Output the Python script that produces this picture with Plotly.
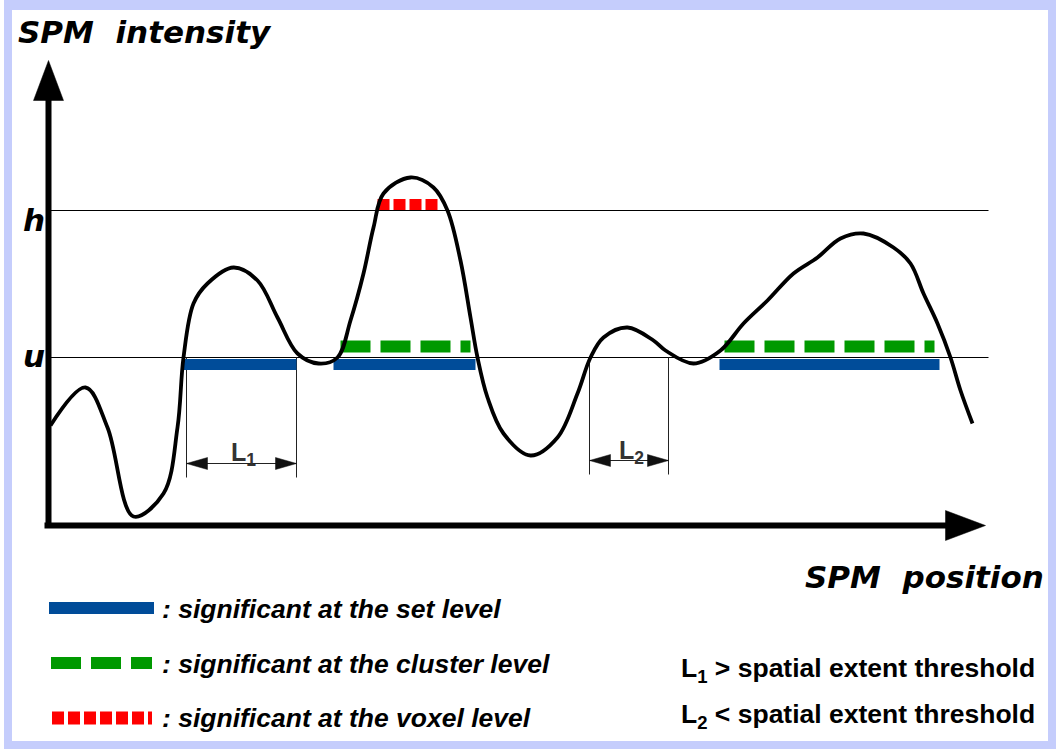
import plotly.graph_objects as go

# ---------------- data (position, intensity) ----------------
curve_pos = [2, 37, 59, 85, 115, 129, 135, 145, 159, 185, 209, 229, 249, 270, 289,
             302, 315, 325, 335, 362, 385, 399, 412, 422, 429, 439, 455, 482, 509,
             529, 542, 555, 579, 605, 617, 645, 672, 695, 719, 745, 769, 792, 815,
             845, 862, 875, 889, 902, 912, 924]
curve_int = [100, 138, 98, 9, 32, 98, 168, 222, 242, 258, 245, 208, 172, 162, 168,
             205, 252, 298, 332, 348, 338, 315, 265, 208, 168, 128, 92, 70, 88,
             132, 168, 188, 198, 185, 175, 162, 175, 202, 225, 252, 268, 287, 292,
             278, 262, 232, 202, 168, 135, 102]

u_level = 168
h_level = 315
threshold_end = 940

set_segments = [(135, 248), (285, 427), (671, 891)]
cluster_segments = [(292, 422), (676, 886)]
voxel_segments = [(329, 389)]

L1_extent = (138, 248)
L2_extent = (541, 620)

legend_labels = [": significant at the set level",
                 ": significant at the cluster level",
                 ": significant at the voxel level"]
note_labels = ["L<sub>1</sub> > spatial extent threshold",
               "L<sub>2</sub> < spatial extent threshold"]

# ---------------- layout constants (pixel origin of the axes) ----------------
W, H = 1056, 749
X0, Y0 = 48.5, 525.5

BLUE = "#004c99"
GREEN = "#009900"
RED = "#ff0000"
LAV = "#c5cdfc"

TITLE_FONT = "DejaVu Sans"
TEXT_FONT = "Liberation Sans"


def dx(px):
    return px - X0


def dy(py):
    return Y0 - py


fig = go.Figure()


def seg_line(x0, x1, y, color, width, dash="solid"):
    fig.add_trace(go.Scatter(x=[x0, x1], y=[y, y], mode="lines",
                             line=dict(color=color, width=width, dash=dash),
                             hoverinfo="skip", showlegend=False))


def polygon(xs, ys, color="black"):
    fig.add_trace(go.Scatter(x=xs + [xs[0]], y=ys + [ys[0]], mode="lines",
                             fill="toself", fillcolor=color,
                             line=dict(color=color, width=0.5),
                             hoverinfo="skip", showlegend=False))


# threshold lines
seg_line(0, threshold_end, h_level, "#000000", 1)
seg_line(0, threshold_end, u_level, "#000000", 1)

# L extent markers
for (a, b), ay in [(L1_extent, 62), (L2_extent, 65)]:
    for xv in (a, b):
        fig.add_trace(go.Scatter(x=[xv, xv], y=[u_level, ay - 14], mode="lines",
                                 line=dict(color="#222222", width=1),
                                 hoverinfo="skip", showlegend=False))
    seg_line(a, b, ay, "#222222", 1)
    polygon([a, a + 21, a + 21], [ay, ay + 6, ay - 6], "#111111")
    polygon([b, b - 21, b - 21], [ay, ay + 6, ay - 6], "#111111")

# significance bars
for a, b in set_segments:
    seg_line(a, b, u_level - 7, BLUE, 11)
for a, b in cluster_segments:
    seg_line(a, b, u_level + 11, GREEN, 12, "30px,10px")
for a, b in voxel_segments:
    seg_line(a, b, h_level + 6, RED, 11, "12px,4px")

# SPM curve
fig.add_trace(go.Scatter(x=curve_pos, y=curve_int, mode="lines",
                         line=dict(color="black", width=3.8, shape="spline", smoothing=1.0),
                         hoverinfo="skip", showlegend=False))

# axes with arrows
fig.add_trace(go.Scatter(x=[0, 0], y=[0, 426], mode="lines",
                         line=dict(color="black", width=6),
                         hoverinfo="skip", showlegend=False))
polygon([-15, 15, 0], [425, 425, 465])
fig.add_trace(go.Scatter(x=[-4, 898], y=[0, 0], mode="lines",
                         line=dict(color="black", width=6),
                         hoverinfo="skip", showlegend=False))
polygon([897, 897, 937], [15, -15, 0])

# legend swatches
seg_line(dx(49), dx(154), dy(608), BLUE, 12)
seg_line(dx(51), dx(152), dy(663), GREEN, 12, "30px,10px")
seg_line(dx(52), dx(152), dy(718), RED, 13, "12px,4px")

annotations = []


def ann(text, px, py, size, family, xanchor="left", yanchor="middle",
        color="black"):
    annotations.append(dict(text=text, x=dx(px), y=dy(py), xref="x", yref="y",
                            showarrow=False, xanchor=xanchor, yanchor=yanchor,
                            font=dict(size=size, family=family, color=color)))


ann("<b><i>SPM  intensity</i></b>", 16, 32, 31, TITLE_FONT)
ann("<b><i>SPM  position</i></b>", 1046, 577, 31, TITLE_FONT, xanchor="right")
ann("<b><i>h</i></b>", 47, 220, 31, TITLE_FONT, xanchor="right")
ann("<b><i>u</i></b>", 47, 356, 31, TITLE_FONT, xanchor="right")
ann("<b>L<sub>1</sub></b>", 243, 454, 25, TEXT_FONT, xanchor="center", color="#333333")
ann("<b>L<sub>2</sub></b>", 631, 452, 25, TEXT_FONT, xanchor="center", color="#333333")

for lbl, py in zip(legend_labels, [609, 664, 718]):
    ann("<b><i>" + lbl + "</i></b>", 160, py, 26.5, TEXT_FONT)
for lbl, py in zip(note_labels, [670, 716]):
    ann("<b>" + lbl + "</b>", 1037, py, 26.5, TEXT_FONT, xanchor="right")

shapes = [
    dict(type="rect", xref="x", yref="y", x0=dx(4), x1=dx(W), y0=dy(0), y1=dy(H),
         fillcolor=LAV, line=dict(width=0), layer="below"),
    dict(type="rect", xref="x", yref="y", x0=dx(12), x1=dx(1048), y0=dy(10), y1=dy(741),
         fillcolor="white", line=dict(width=0), layer="below"),
]

fig.update_layout(
    width=W, height=H,
    margin=dict(l=0, r=0, t=0, b=0),
    paper_bgcolor="white", plot_bgcolor="white",
    xaxis=dict(range=[dx(0), dx(W)], visible=False, fixedrange=True),
    yaxis=dict(range=[dy(H), dy(0)], visible=False, fixedrange=True),
    annotations=annotations, shapes=shapes, showlegend=False,
)

fig.write_html("out.html", config={"displayModeBar": False},
               post_script="document.body.style.margin='0';document.body.style.padding='0';")
